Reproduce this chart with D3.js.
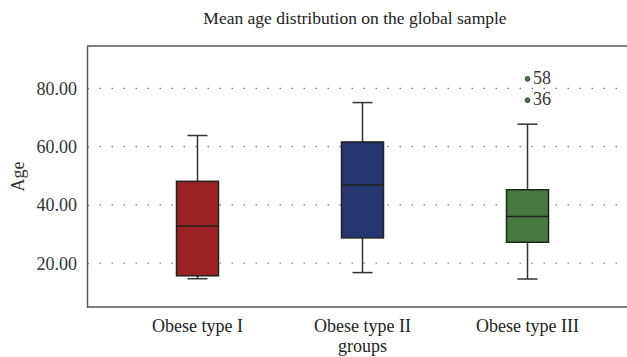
<!DOCTYPE html>
<html>
<head>
<meta charset="utf-8">
<script src="https://cdn.jsdelivr.net/npm/d3@7"></script>
<style>
  html, body { margin: 0; padding: 0; background: #fff; }
  svg { display: block; font-family: "Liberation Serif", "DejaVu Serif", serif; }
</style>
</head>
<body>
<svg id="chart" width="627" height="357"></svg>
<script>
// Age distribution per obesity group (five-number summaries)
const groups = ["Obese type I", "Obese type II", "Obese type III"];
const whiskerLow  = [14.7, 16.8, 14.6];
const quartile1   = [15.7, 28.7, 27.2];
const medians     = [32.8, 46.8, 36.0];
const quartile3   = [48.1, 61.6, 45.2];
const whiskerHigh = [63.8, 75.1, 67.7];
const boxColors   = ["#9a2124", "#25366e", "#467a3e"];
// Outliers of the third group, with their case numbers
const outlierValues = [83.2, 75.9];
const outlierCases  = ["58", "36"];
const yTicks = [20, 40, 60, 80];

const svg = d3.select("#chart");
const frame = { left: 87, right: 627, top: 46, bottom: 307 };

const x = d3.scaleBand().domain(groups).range([115, 610]).padding(0);
const y = d3.scaleLinear().domain([5, 94.5]).range([frame.bottom, frame.top]);
const boxW = 42, capW = 20;

// Title
svg.append("text")
  .attr("x", 355).attr("y", 24)
  .attr("text-anchor", "middle")
  .attr("font-size", 17.5).attr("fill", "#222")
  .text("Mean age distribution on the global sample");

// Dotted horizontal gridlines
svg.append("g").selectAll("line").data(yTicks).join("line")
  .attr("x1", 99.5).attr("x2", frame.right)
  .attr("y1", d => y(d)).attr("y2", d => y(d))
  .attr("stroke", "#777").attr("stroke-width", 1.2)
  .attr("stroke-dasharray", "1.5 10.5");

// Y axis with labels on the left
const yAxis = d3.axisLeft(y).tickValues(yTicks).tickFormat(d3.format(".2f"))
  .tickSizeInner(-2).tickSizeOuter(0).tickPadding(10);
const gy = svg.append("g").attr("transform", `translate(${frame.left},0)`).call(yAxis);
gy.select(".domain").attr("stroke", "#555").attr("stroke-width", 1.5);
gy.selectAll(".tick line").attr("stroke", "#555");
gy.selectAll(".tick text").attr("font-size", 18).attr("fill", "#333")
  .attr("font-family", "Liberation Serif, serif");

// Top and bottom frame lines
[frame.top, frame.bottom].forEach(yy => {
  svg.append("line")
    .attr("x1", frame.left).attr("x2", frame.right)
    .attr("y1", yy).attr("y2", yy)
    .attr("stroke", "#555").attr("stroke-width", 1.5);
});

// Y axis title
svg.append("text")
  .attr("transform", `translate(24,${(frame.top + frame.bottom) / 2}) rotate(-90)`)
  .attr("text-anchor", "middle")
  .attr("font-size", 18).attr("fill", "#333")
  .text("Age");

// Box plots
const boxes = svg.append("g").selectAll("g").data(groups).join("g")
  .attr("transform", d => `translate(${x(d) + x.bandwidth() / 2},0)`);

boxes.append("line") // whisker stem
  .attr("x1", 0).attr("x2", 0)
  .attr("y1", (d, i) => y(whiskerLow[i])).attr("y2", (d, i) => y(whiskerHigh[i]))
  .attr("stroke", "#333").attr("stroke-width", 1.5);

boxes.append("line") // upper cap
  .attr("x1", -capW / 2).attr("x2", capW / 2)
  .attr("y1", (d, i) => y(whiskerHigh[i])).attr("y2", (d, i) => y(whiskerHigh[i]))
  .attr("stroke", "#333").attr("stroke-width", 1.5);

boxes.append("line") // lower cap
  .attr("x1", -capW / 2).attr("x2", capW / 2)
  .attr("y1", (d, i) => y(whiskerLow[i])).attr("y2", (d, i) => y(whiskerLow[i]))
  .attr("stroke", "#333").attr("stroke-width", 1.5);

boxes.append("rect")
  .attr("x", -boxW / 2).attr("width", boxW)
  .attr("y", (d, i) => y(quartile3[i]))
  .attr("height", (d, i) => y(quartile1[i]) - y(quartile3[i]))
  .attr("fill", (d, i) => boxColors[i])
  .attr("stroke", "#222").attr("stroke-width", 1.5);

boxes.append("line") // median
  .attr("x1", -boxW / 2).attr("x2", boxW / 2)
  .attr("y1", (d, i) => y(medians[i])).attr("y2", (d, i) => y(medians[i]))
  .attr("stroke", "#222").attr("stroke-width", 1.5);

// Outliers for the third group
const cx3 = x(groups[2]) + x.bandwidth() / 2;
const outliers = svg.append("g").selectAll("g").data(outlierValues).join("g")
  .attr("transform", d => `translate(${cx3},${y(d)})`);
outliers.append("circle")
  .attr("r", 2.4).attr("fill", "#4a6e45").attr("stroke", "#333").attr("stroke-width", 0.8);
outliers.append("text")
  .attr("x", 5.5).attr("dy", "0.28em")
  .attr("font-size", 18).attr("fill", "#333")
  .text((d, i) => outlierCases[i]);

// Category labels
svg.append("g").selectAll("text").data(groups).join("text")
  .attr("x", d => x(d) + x.bandwidth() / 2).attr("y", 331.5)
  .attr("text-anchor", "middle")
  .attr("font-size", 18).attr("fill", "#222")
  .text(d => d);

// X axis title
svg.append("text")
  .attr("x", x(groups[1]) + x.bandwidth() / 2).attr("y", 352)
  .attr("text-anchor", "middle")
  .attr("font-size", 18).attr("fill", "#222")
  .text("groups");
</script>
</body>
</html>
